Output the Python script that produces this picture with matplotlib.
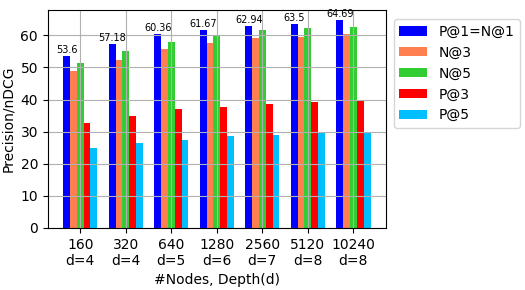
import numpy as np
import matplotlib
matplotlib.use("Agg")
import matplotlib.pyplot as plt

nodes = ["160", "320", "640", "1280", "2560", "5120", "10240"]
depths = ["d=4", "d=4", "d=5", "d=6", "d=7", "d=8", "d=8"]
p1 = [53.6, 57.18, 60.36, 61.67, 62.94, 63.5, 64.69]
n3 = [48.8, 52.3, 55.7, 57.6, 59.1, 59.5, 60.5]
n5 = [51.3, 55.1, 57.9, 59.9, 61.7, 62.2, 62.6]
p3 = [32.8, 35.0, 37.0, 37.8, 38.75, 39.1, 39.9]
p5 = [24.8, 26.4, 27.3, 28.5, 28.9, 29.5, 29.5]

series = [("P@1=N@1", p1, "blue"), ("N@3", n3, "coral"), ("N@5", n5, "limegreen"),
          ("P@3", p3, "red"), ("P@5", p5, "deepskyblue")]

fig = plt.figure(figsize=(5.25, 2.9), dpi=100)
ax = fig.add_axes([0.091, 0.214, 0.644, 0.752])
x = np.arange(len(nodes))
w = 0.15
for i, (lab, vals, c) in enumerate(series):
    bars = ax.bar(x + (i - 2) * w, vals, w, color=c, label=lab)
    if i == 0:
        for xi, v in zip(x + (i - 2) * w, vals):
            ax.text(xi, v + 0.4, f"{v:g}", ha="center", va="bottom", fontsize=7)
ax.grid(True)
ax.set_xticks(x)
ax.set_xticklabels([f"{n}\n{d}" for n, d in zip(nodes, depths)], fontsize=10)
ax.tick_params(axis="y", labelsize=10)
ax.set_ylabel("Precision/nDCG", fontsize=10)
ax.set_xlabel("#Nodes, Depth(d)", fontsize=10)
ax.legend(loc="upper left", bbox_to_anchor=(1.003, 0.99), fontsize=10)
fig.savefig("out.png", dpi=100)
